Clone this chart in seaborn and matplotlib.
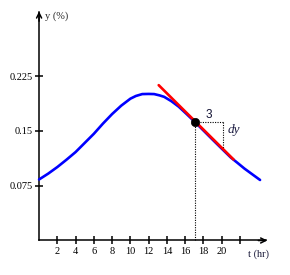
import matplotlib
matplotlib.use("Agg")
import matplotlib.pyplot as plt
import seaborn as sns
import pandas as pd

# ---- data ----
t_vals = [0, 1, 2, 3, 4, 5, 6, 7, 8, 9, 10, 10.6, 11.3, 12, 12.6, 13.2, 13.7, 14.5, 15.3,
          16.2, 17.1, 18, 19, 20, 21, 21.7, 22.5, 23.3, 24.2]
y_vals = [0.0835, 0.0915, 0.1005, 0.1105, 0.121, 0.1335, 0.146, 0.160, 0.173, 0.1845, 0.194,
          0.1977, 0.2003, 0.2005, 0.2003, 0.1985, 0.1965, 0.1905, 0.183, 0.1725, 0.1617,
          0.1505, 0.138, 0.1257, 0.1135, 0.1065, 0.0983, 0.091, 0.0828]
tangent_t = [13.1, 21.3]
tangent_y = [0.2125, 0.1108]
point_t = [17.1]
point_y = [0.1617]
dx_end = 20.1
dy_end = 0.1245
x_ticks = [2, 4, 6, 8, 10, 12, 14, 16, 18, 20, 22]
x_tick_labels = ["2", "4", "6", "8", "10", "12", "14", "16", "18", "20", ""]
y_ticks = [0.075, 0.15, 0.225]
y_tick_labels = ["0.075", "0.15", "0.225"]

curve = pd.DataFrame({"t": t_vals, "y": y_vals})
tangent = pd.DataFrame({"t": tangent_t, "y": tangent_y})
pt = pd.DataFrame({"t": point_t, "y": point_y})

sns.set_style("white")
fig = plt.figure(figsize=(2.9, 2.75), dpi=100)
ax = fig.add_axes([0, 0, 1, 1])
ax.set_xlim(-4.28, 27.48)
ax.set_ylim(-0.0472, 0.329)

serif = ["Liberation Serif", "DejaVu Serif"]

# dotted helper lines
dot_style = dict(ls=(0, (1, 1.2)), color="black", lw=0.8, zorder=2)
ax.plot([point_t[0], point_t[0]], [0, point_y[0]], **dot_style)
ax.plot([point_t[0], dx_end], [point_y[0], point_y[0]], **dot_style)
ax.plot([dx_end, dx_end], [point_y[0], dy_end], **dot_style)

sns.lineplot(data=curve, x="t", y="y", color="#0000ff", lw=1.9, ax=ax, sort=False, zorder=3,
             solid_joinstyle="round", solid_capstyle="round")
sns.lineplot(data=tangent, x="t", y="y", color="#ff0000", lw=1.9, ax=ax, zorder=4)
sns.scatterplot(data=pt, x="t", y="y", color="black", s=36, ax=ax, zorder=5, edgecolor="black")

# axes
for s in ["top", "right"]:
    ax.spines[s].set_visible(False)
ax.spines["left"].set_position(("data", 0))
ax.spines["bottom"].set_position(("data", 0))
ax.spines["left"].set_bounds(0, 0.3126)
ax.spines["bottom"].set_bounds(0, 24.9)
for s in ["left", "bottom"]:
    ax.spines[s].set_color("black")
    ax.spines[s].set_linewidth(1.1)
ax.annotate("", xy=(25.0, 0), xytext=(24.0, 0),
            arrowprops=dict(arrowstyle="->", lw=1.1, color="black", mutation_scale=9, shrinkA=0, shrinkB=0))
ax.annotate("", xy=(0, 0.3135), xytext=(0, 0.30),
            arrowprops=dict(arrowstyle="->", lw=1.1, color="black", mutation_scale=9, shrinkA=0, shrinkB=0))

ax.set_xticks(x_ticks)
ax.set_xticklabels(x_tick_labels, family=serif, fontsize=7.5)
ax.set_yticks(y_ticks)
ax.set_yticklabels(y_tick_labels, family=serif, fontsize=7.5)
ax.tick_params(axis="both", direction="inout", length=6, width=1.1, color="black",
               labelcolor="black", pad=1.5, bottom=True, left=True)
ax.set_xlabel("")
ax.set_ylabel("")
ax.grid(False)
ax.patch.set_alpha(0)

ax.text(24.05, -0.0188, "t (hr)", family=serif, fontsize=7.5, ha="center", va="center",
        color="#1a1a3a")
ax.text(0.65, 0.307, "y (%)", family=serif, fontsize=7.5, ha="left", va="center")
ax.text(18.55, 0.171, "3", family=["Liberation Sans", "DejaVu Sans"], fontsize=8.5,
        ha="center", va="center", color="#111133")
ax.text(20.6, 0.1505, "dy", family=serif, style="italic", fontsize=9.5,
        ha="left", va="center", color="#1a1a40")

fig.savefig("out.png", dpi=100)
